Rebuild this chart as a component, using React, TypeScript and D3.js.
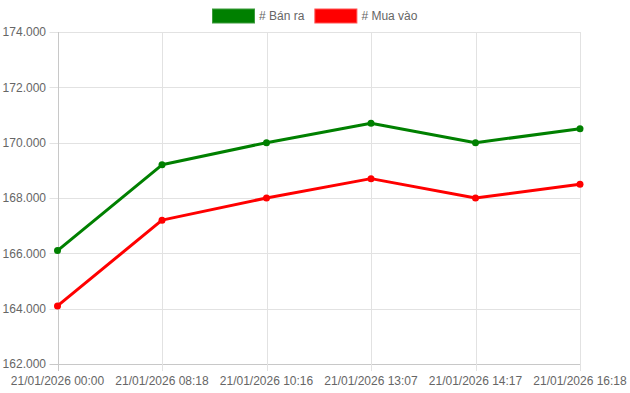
import React, { useEffect, useRef } from 'react';
import * as d3 from 'd3';

const labels = [
  '21/01/2026 00:00',
  '21/01/2026 08:18',
  '21/01/2026 10:16',
  '21/01/2026 13:07',
  '21/01/2026 14:17',
  '21/01/2026 16:18',
];
const banRa = [166100, 169200, 170000, 170700, 170000, 170500];
const muaVao = [164100, 167200, 168000, 168700, 168000, 168500];
const yTicks = [162000, 164000, 166000, 168000, 170000, 172000, 174000];

const seriesList = [
  { name: '# Bán ra', values: banRa, color: '#008000', border: '#3d9b3d' },
  { name: '# Mua vào', values: muaVao, color: '#ff0000', border: '#ff5252' },
];

const font = '"Liberation Sans", Arial, Helvetica, sans-serif';

export default function App() {
  const svgRef = useRef<SVGSVGElement>(null);

  const width = 630;
  const height = 393;
  const margin = { top: 32, right: 50, bottom: 29, left: 57.5 };

  useEffect(() => {
    const svg = d3.select(svgRef.current);
    svg.selectAll('*').remove();

    const x = d3.scalePoint<string>()
      .domain(labels)
      .range([margin.left, width - margin.right]);

    const y = d3.scaleLinear()
      .domain([162000, 174000])
      .range([height - margin.bottom, margin.top]);

    const fmt = (v: number) => d3.format(',.0f')(v).replace(/,/g, '.');

    // grid
    const grid = svg.append('g');
    grid.selectAll('line.h')
      .data(yTicks)
      .enter()
      .append('line')
      .attr('x1', margin.left - 8)
      .attr('x2', width - margin.right)
      .attr('y1', d => Math.round(y(d)) + 0.5)
      .attr('y2', d => Math.round(y(d)) + 0.5)
      .attr('stroke', (d) => d === 162000 ? '#c8c8c8' : '#e2e2e2')
      .attr('stroke-width', 1);

    grid.selectAll('line.v')
      .data(labels)
      .enter()
      .append('line')
      .attr('x1', d => Math.round(x(d)!) + 0.5)
      .attr('x2', d => Math.round(x(d)!) + 0.5)
      .attr('y1', margin.top)
      .attr('y2', height - margin.bottom + 7)
      .attr('stroke', (d, i) => i === 0 ? '#c8c8c8' : '#e2e2e2')
      .attr('stroke-width', 1);

    // y labels
    svg.append('g')
      .selectAll('text')
      .data(yTicks)
      .enter()
      .append('text')
      .attr('x', margin.left - 11.5)
      .attr('y', d => y(d))
      .attr('dy', '0.35em')
      .attr('text-anchor', 'end')
      .style('font-family', font)
      .style('font-size', '12px')
      .attr('fill', '#666')
      .text(d => fmt(d));

    // x labels
    svg.append('g')
      .selectAll('text')
      .data(labels)
      .enter()
      .append('text')
      .attr('x', d => x(d)!)
      .attr('y', height - margin.bottom + 21)
      .attr('text-anchor', 'middle')
      .style('font-family', font)
      .style('font-size', '12px')
      .attr('fill', '#666')
      .text(d => d);

    // lines
    const line = d3.line<number>()
      .x((d, i) => x(labels[i])!)
      .y(d => y(d));

    seriesList.forEach(s => {
      svg.append('path')
        .datum(s.values)
        .attr('d', line)
        .attr('fill', 'none')
        .attr('stroke', s.color)
        .attr('stroke-width', 3)
        .attr('stroke-linejoin', 'round');

      svg.append('g')
        .selectAll('circle')
        .data(s.values)
        .enter()
        .append('circle')
        .attr('cx', (d, i) => x(labels[i])!)
        .attr('cy', d => y(d))
        .attr('r', 3.5)
        .attr('fill', s.color);
    });

    // legend, centred over the whole chart
    const boxW = 42;
    const boxH = 14;
    const legend = svg.append('g');
    let lx = 0;
    seriesList.forEach((s, i) => {
      legend.append('rect')
        .attr('x', lx + 0.5)
        .attr('y', 9)
        .attr('width', boxW)
        .attr('height', boxH)
        .attr('fill', s.color)
        .attr('stroke', s.border)
        .attr('stroke-width', 1);
      const t = legend.append('text')
        .attr('x', lx + boxW + 5)
        .attr('y', 16)
        .attr('dy', '0.35em')
        .style('font-family', font)
        .style('font-size', '12px')
        .attr('fill', '#666')
        .text(s.name);
      const w = (t.node() as SVGTextElement).getComputedTextLength();
      lx = lx + boxW + 5 + w + (i < seriesList.length - 1 ? 10 : 0);
    });
    legend.attr('transform', `translate(${Math.round(width / 2 - lx / 2)}, 0)`);
  }, []);

  return (
    <svg ref={svgRef} width={width} height={height}
      style={{ position: 'absolute', left: 0, top: 0, background: '#fff' }} />
  );
}
